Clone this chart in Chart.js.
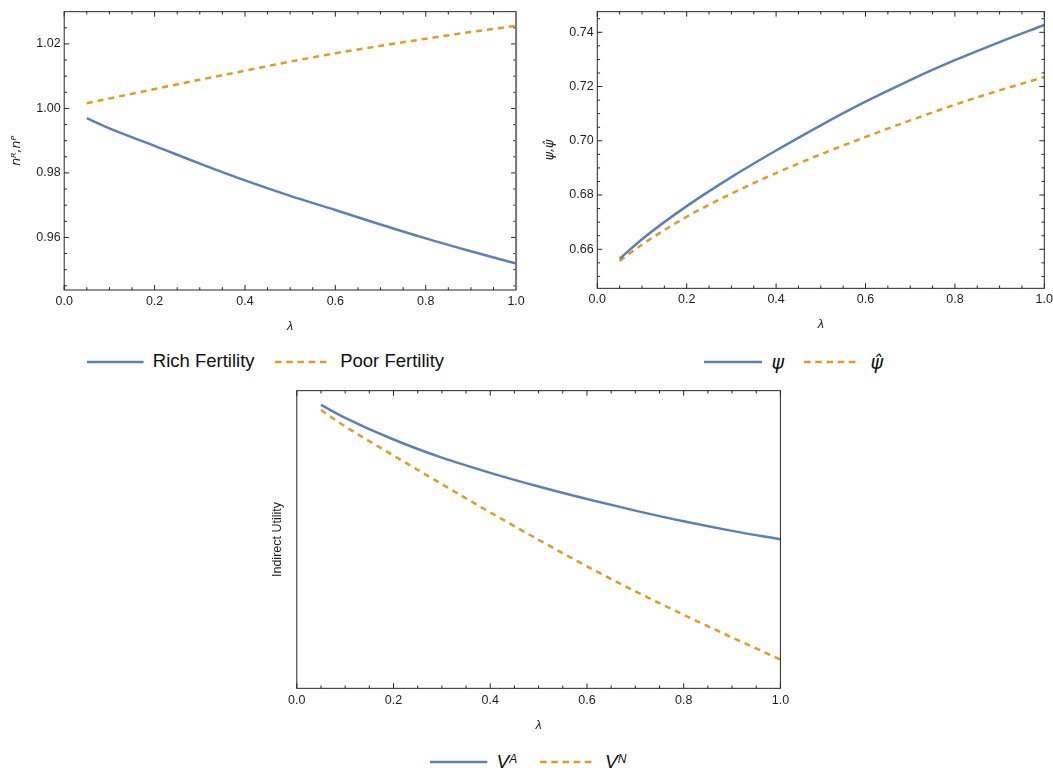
<!DOCTYPE html>
<html><head><meta charset="utf-8">
<script src="https://cdn.jsdelivr.net/npm/chart.js@4.4.1/dist/chart.umd.min.js"></script>
<style>
html,body{margin:0;padding:0;background:#fff;width:1053px;height:768px;overflow:hidden;position:relative;font-family:'Liberation Sans',Arial,sans-serif;}
canvas{position:absolute;}
.sw{position:absolute;}
.lg{position:absolute;height:30px;line-height:30px;white-space:nowrap;color:#111;font-size:18.5px;}
.gk{font-family:'DejaVu Sans',sans-serif;font-style:italic;font-size:19px;}
.vv{font-style:italic;font-size:19px;}
.sp{position:relative;top:-5px;font-style:italic;font-size:12px;}
</style></head><body>
<canvas id="c1" width="530" height="345" style="left:0;top:0"></canvas>
<canvas id="c2" width="530" height="345" style="left:530px;top:0"></canvas>
<canvas id="c3" width="545" height="360" style="left:250px;top:380px"></canvas>

<!-- legend 1 -->
<svg class="sw" style="left:86.7px;top:346.7px" width="57" height="30"><line x1="0" y1="15" x2="56.6" y2="15" stroke="#5E81B5" stroke-width="2.7"/></svg>
<div class="lg" style="left:152.8px;top:345.7px">Rich Fertility</div>
<svg class="sw" style="left:275px;top:346.7px" width="52" height="30"><line x1="0" y1="15" x2="51.7" y2="15" stroke="#E19C24" stroke-width="2.7" stroke-dasharray="6.6 4.6"/></svg>
<div class="lg" style="left:340.2px;top:345.7px">Poor Fertility</div>
<!-- legend 2 -->
<svg class="sw" style="left:704.3px;top:347.3px" width="58" height="30"><line x1="0" y1="15" x2="58" y2="15" stroke="#5E81B5" stroke-width="2.7"/></svg>
<div class="lg gk" style="left:771.5px;top:347.3px">ψ</div>
<svg class="sw" style="left:804.3px;top:347.3px" width="52" height="30"><line x1="0" y1="15" x2="51.7" y2="15" stroke="#E19C24" stroke-width="2.7" stroke-dasharray="6.6 4.6"/></svg>
<div class="lg gk" style="left:870.5px;top:347.3px">ψ̂</div>
<!-- legend 3 -->
<svg class="sw" style="left:430px;top:746.7px" width="58" height="30"><line x1="0" y1="15" x2="57.3" y2="15" stroke="#5E81B5" stroke-width="2.7"/></svg>
<div class="lg" style="left:496.5px;top:746.7px"><span class="vv">V</span><span class="sp">A</span></div>
<svg class="sw" style="left:540px;top:746.7px" width="52" height="30"><line x1="0" y1="15" x2="51.7" y2="15" stroke="#E19C24" stroke-width="2.7" stroke-dasharray="6.6 4.6"/></svg>
<div class="lg" style="left:605px;top:746.7px"><span class="vv">V</span><span class="sp">N</span></div>

<script>
// ---------- data ----------
const lambdaValues   = [0.05, 0.1, 0.2, 0.3, 0.4, 0.5, 0.6, 0.7, 0.8, 0.9, 1.0];
const richFertility  = [0.9970, 0.9938, 0.9884, 0.9829, 0.9777, 0.9729, 0.9685, 0.9640, 0.9597, 0.9557, 0.9519];
const poorFertility  = [1.0016, 1.0031, 1.0060, 1.0089, 1.0117, 1.0145, 1.0171, 1.0194, 1.0216, 1.0237, 1.0256];
const psiValues      = [0.6565, 0.6637, 0.6759, 0.6866, 0.6964, 0.7057, 0.7144, 0.7224, 0.7297, 0.7364, 0.7427];
const psiHatValues   = [0.6557, 0.6617, 0.6720, 0.6805, 0.6881, 0.6950, 0.7014, 0.7075, 0.7133, 0.7186, 0.7235];
const utilityA       = [95.2, 90.9, 83.6, 77.5, 72.4, 67.8, 63.6, 59.7, 56.1, 52.9, 50.1];
const utilityN       = [93.5, 88.0, 78.2, 68.6, 59.1, 49.9, 41.0, 32.6, 24.7, 17.1, 9.7];

const xMajorTicks = [0, 0.2, 0.4, 0.6, 0.8, 1.0];
const xMinorTicks = [0.05,0.1,0.15,0.25,0.3,0.35,0.45,0.5,0.55,0.65,0.7,0.75,0.85,0.9,0.95];
const fertMajorTicks = [0.96, 0.98, 1.00, 1.02];
const fertMinorTicks = [0.945,0.95,0.955,0.965,0.97,0.975,0.985,0.99,0.995,1.005,1.01,1.015,1.025];
const psiMajorTicks = [0.66, 0.68, 0.70, 0.72, 0.74];
const psiMinorTicks = [0.65,0.655,0.665,0.67,0.675,0.685,0.69,0.695,0.705,0.71,0.715,0.725,0.73,0.735,0.745];

const BLUE = '#5E81B5', ORANGE = '#E19C24', TXT = '#1e1e1e';
Chart.defaults.font.family = "'Liberation Sans', Arial, sans-serif";
Chart.defaults.color = TXT;

const frameTicks = {
  id: 'frameTicks',
  afterDatasetsDraw(chart, args, o) {
    const {ctx, chartArea: a, scales: {x, y}} = chart;
    ctx.save();
    ctx.strokeStyle = '#262626';
    ctx.lineWidth = 1;
    ctx.strokeRect(a.left, a.top, a.right - a.left, a.bottom - a.top);
    const seg = (x1, y1, x2, y2) => { ctx.beginPath(); ctx.moveTo(x1, y1); ctx.lineTo(x2, y2); ctx.stroke(); };
    const xt = (vals, len) => vals.forEach(v => {
      const p = x.getPixelForValue(v);
      if (o.bottom) seg(p, a.bottom, p, a.bottom - len);
      if (o.top) seg(p, a.top, p, a.top + len);
    });
    const yt = (vals, len) => vals.forEach(v => {
      const p = y.getPixelForValue(v);
      if (o.left) seg(a.left, p, a.left + len, p);
      if (o.right) seg(a.right, p, a.right - len, p);
    });
    xt(o.xMajor || [], 5); xt(o.xMinor || [], 2.8);
    yt(o.yMajor || [], 5); yt(o.yMinor || [], 2.8);
    if (o.rightEdge) {
      ctx.strokeStyle = o.rightEdge; ctx.lineWidth = 2;
      seg(a.right, a.top, a.right, a.bottom);
    }
    ctx.restore();
  }
};

function pts(ys) { return lambdaValues.map((x, i) => ({x, y: ys[i]})); }
function line(label, ys, color, dashed) {
  return {label, data: pts(ys), borderColor: color, borderWidth: 2.5, pointRadius: 0,
    borderDash: dashed ? [6, 5] : [], cubicInterpolationMode: 'monotone', fill: false};
}

function xScale(tickPad, titlePadBottom, h) {
  return {
    type: 'linear', min: 0, max: 1,
    grid: {display: false, drawTicks: false}, border: {display: false},
    ticks: {padding: tickPad, font: {size: 12.5}, color: TXT, maxRotation: 0, autoSkip: false,
      callback: v => Number(v).toFixed(1)},
    afterBuildTicks: s => { s.ticks = xMajorTicks.map(v => ({value: v})); },
    title: {display: true, text: 'λ', color: TXT, font: {size: 12.5, style: 'italic'}, padding: {top: 0, bottom: titlePadBottom}},
    afterFit: s => { s.height = h; }
  };
}
function yScale(min, max, majors, titleText, titleFont, titlePadTop, w, showTicks) {
  return {
    type: 'linear', min, max,
    grid: {display: false, drawTicks: false}, border: {display: false},
    ticks: {display: showTicks, padding: 3.6, font: {size: 12.5}, color: TXT, autoSkip: false,
      callback: v => Number(v).toFixed(2)},
    afterBuildTicks: s => { s.ticks = majors.map(v => ({value: v})); },
    title: {display: true, text: titleText, color: TXT, font: titleFont, padding: {top: titlePadTop, bottom: 0}},
    afterFit: s => { s.width = w; }
  };
}

function makeChart(id, datasets, scales, padding, ft) {
  return new Chart(document.getElementById(id), {
    type: 'line',
    data: {datasets},
    options: {
      responsive: false, animation: false, devicePixelRatio: 1,
      layout: {padding},
      scales,
      plugins: {legend: {display: false}, tooltip: {enabled: false}, frameTicks: ft}
    },
    plugins: [frameTicks]
  });
}

makeChart('c1',
  [line('Rich Fertility', richFertility, BLUE, false), line('Poor Fertility', poorFertility, ORANGE, true)],
  {x: xScale(4.2, 10.8, 55), y: yScale(0.9437, 1.0300, fertMajorTicks, 'nᴿ,nᴾ', {family: "'DejaVu Sans', sans-serif", size: 12.5, style: 'italic'}, 9.2, 64.2, true)},
  {top: 11.67, right: 13.9, left: 0, bottom: 0},
  {xMajor: xMajorTicks, xMinor: xMinorTicks, yMajor: fertMajorTicks, yMinor: fertMinorTicks, top: true, bottom: true, left: true, right: true, rightEdge: '#7a7a7a'});

makeChart('c2',
  [line('ψ', psiValues, BLUE, false), line('ψ̂', psiHatValues, ORANGE, true)],
  {x: xScale(4.2, 12.5, 56.67), y: yScale(0.6456, 0.7476, psiMajorTicks, 'ψ,ψ̂', {family: "'DejaVu Sans', sans-serif", size: 12.5, style: 'italic'}, 11.8, 67.3, true)},
  {top: 11.67, right: 15.7, left: 0, bottom: 0},
  {xMajor: xMajorTicks, xMinor: xMinorTicks, yMajor: psiMajorTicks, yMinor: psiMinorTicks, top: true, bottom: true, left: true, right: true});

makeChart('c3',
  [line('Vᴬ', utilityA, BLUE, false), line('Vᴺ', utilityN, ORANGE, true)],
  {x: xScale(4.9, 6.8, 51.67), y: yScale(0, 100, [], 'Indirect Utility', {size: 12.5}, 20.4, 46.8, false)},
  {top: 10.67, right: 14.6, left: 0, bottom: 0},
  {xMajor: xMajorTicks, xMinor: xMinorTicks, top: true, bottom: true, left: false, right: false});
</script>
</body></html>
